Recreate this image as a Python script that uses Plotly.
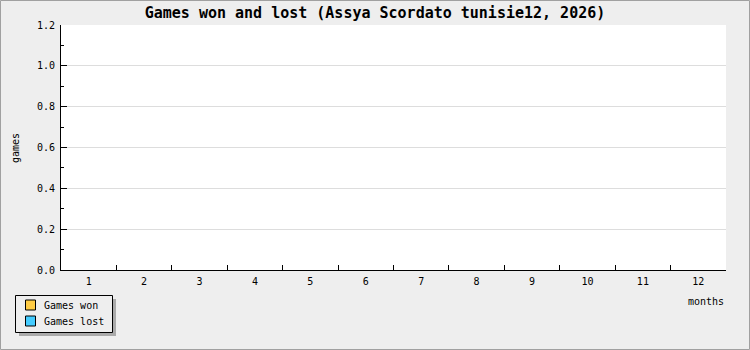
import plotly.graph_objects as go

months = ["1", "2", "3", "4", "5", "6", "7", "8", "9", "10", "11", "12"]
games_won = [0, 0, 0, 0, 0, 0, 0, 0, 0, 0, 0, 0]
games_lost = [0, 0, 0, 0, 0, 0, 0, 0, 0, 0, 0, 0]
y_ticks = [0.0, 0.2, 0.4, 0.6, 0.8, 1.0, 1.2]
series_names = ["Games won", "Games lost"]
series_colors = ["#ffcc44", "#44ccff"]

W, H = 750, 350
L, R, T, B = 61, 726, 25, 270
pw, ph = R - L, B - T

def px(x):
    return (x - L) / pw

def py(y):
    return (B - y) / ph

FONT = "DejaVu Sans Mono"

fig = go.Figure()
for name, vals, col in zip(series_names, [games_won, games_lost], series_colors):
    fig.add_trace(go.Bar(x=months, y=vals, name=name, showlegend=False,
                         marker=dict(color=col, line=dict(color="black", width=0))))

fig.update_layout(
    width=W, height=H,
    margin=dict(l=L, r=W - R, t=T, b=H - B, pad=0, autoexpand=False),
    paper_bgcolor="#eeeeee",
    plot_bgcolor="white",
    font=dict(family=FONT, size=10, color="black"),
    title=dict(text="Games won and lost (Assya Scordato tunisie12, 2026)",
               x=0.5, xanchor="center", y=1 - 13 / H, yanchor="middle",
               font=dict(family=FONT, size=15, color="black", weight="bold")),
    showlegend=False,
    barmode="group",
)

fig.update_xaxes(
    type="category", categoryorder="array", categoryarray=months,
    showline=True, linecolor="black", linewidth=1,
    ticks="inside", tickson="boundaries", ticklen=5, tickcolor="black",
    showgrid=False, zeroline=False, fixedrange=True,
    ticklabelstandoff=2,
    tickfont=dict(family=FONT, size=10),
)
fig.update_yaxes(
    range=[0, 1.2], tickvals=y_ticks, ticktext=[f"{v:.1f}" for v in y_ticks],
    showline=True, linecolor="black", linewidth=1,
    ticks="inside", ticklen=6, tickcolor="black",
    minor=dict(dtick=0.1, ticks="inside", ticklen=3, tickcolor="black", showgrid=False),
    showgrid=True, gridcolor="#dddddd", gridwidth=1, zeroline=False,
    ticklabelstandoff=3,
    fixedrange=True, tickfont=dict(family=FONT, size=10),
)

# outer border
fig.add_shape(type="rect", xref="paper", yref="paper",
              x0=px(0.5), x1=px(W - 0.5), y0=py(H - 0.5), y1=py(0.5),
              line=dict(color="#a0a0a0", width=1), fillcolor="rgba(0,0,0,0)", layer="below")
# legend shadow and box
fig.add_shape(type="rect", xref="paper", yref="paper",
              x0=px(19), x1=px(116), y0=py(336), y1=py(299),
              line=dict(width=0), fillcolor="#aaaaaa", layer="below")
fig.add_shape(type="rect", xref="paper", yref="paper",
              x0=px(15.5), x1=px(112.5), y0=py(332.5), y1=py(295.5),
              line=dict(color="black", width=1), fillcolor="#eeeeee", layer="below")
for i, (name, col) in enumerate(zip(series_names, series_colors)):
    cy = 305 + 16 * i
    fig.add_shape(type="rect", xref="paper", yref="paper",
                  x0=px(25.5), x1=px(35.5), y0=py(cy + 5), y1=py(cy - 5),
                  line=dict(color="black", width=1), fillcolor=col, layer="above")
    fig.add_annotation(text=name, xref="paper", yref="paper",
                       x=px(42), y=py(cy), xanchor="left", yanchor="middle",
                       showarrow=False, font=dict(family=FONT, size=10))

fig.add_annotation(text="games", xref="paper", yref="paper",
                   x=px(15), y=py(148), xanchor="center", yanchor="middle",
                   showarrow=False, textangle=-90,
                   font=dict(family=FONT, size=10))
fig.add_annotation(text="months", xref="paper", yref="paper",
                   x=px(706), y=py(301.5), xanchor="center", yanchor="middle",
                   showarrow=False, font=dict(family=FONT, size=10))

fig.write_html("out.html", config={"displayModeBar": False})
